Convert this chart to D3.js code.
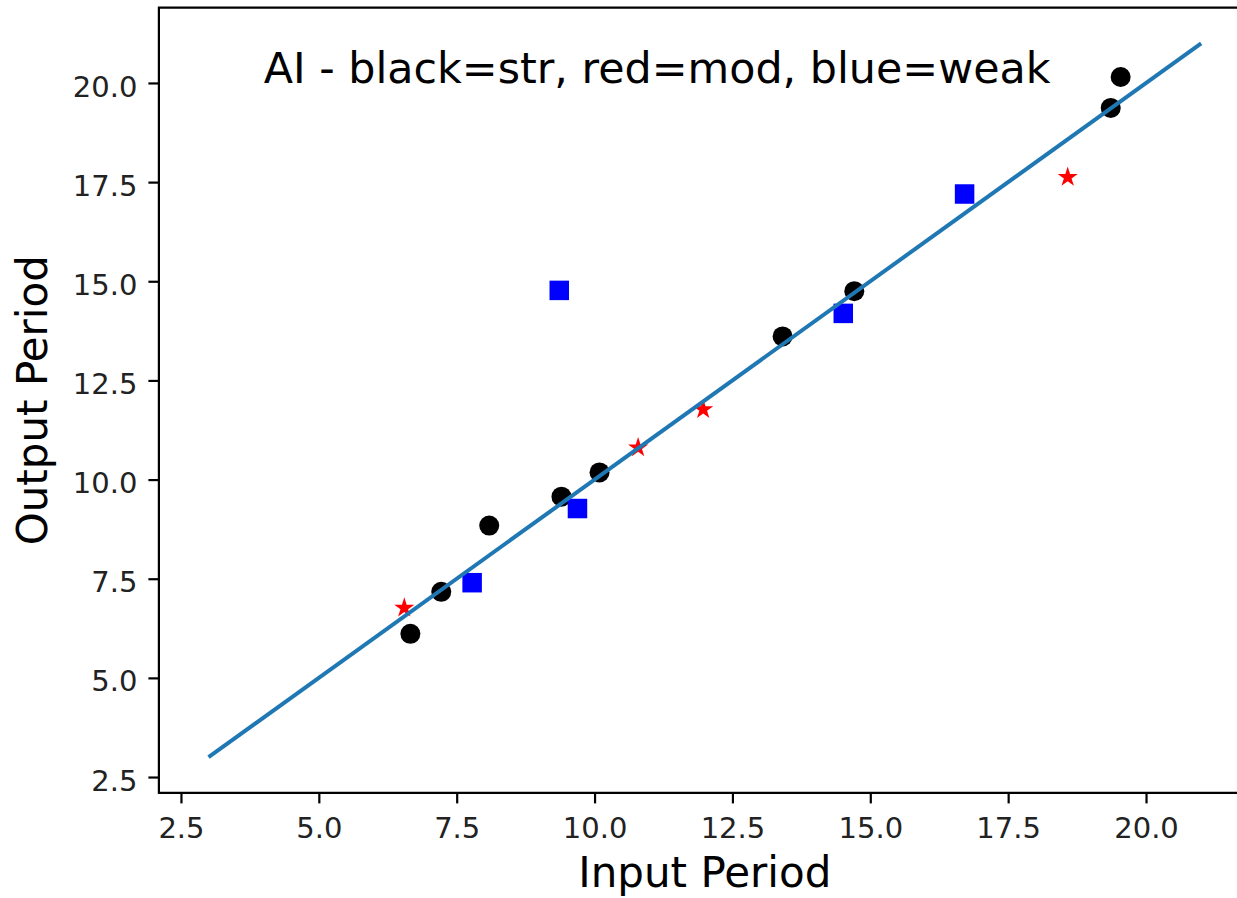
<!DOCTYPE html>
<html>
<head>
<meta charset="utf-8">
<script src="https://cdn.jsdelivr.net/npm/d3@7"></script>
<style>
  html, body { margin: 0; padding: 0; background: #fff; }
  svg { display: block; font-family: "DejaVu Sans", sans-serif; }
</style>
</head>
<body>
<svg id="chart" width="1237" height="898"></svg>
<script>
// ---- data ----
const strongX = [6.66, 7.22, 8.09, 9.40, 10.09, 13.41, 14.71, 19.36, 19.54];
const strongY = [6.11, 7.17, 8.84, 9.57, 10.18, 13.61, 14.75, 19.37, 20.15];
const modX = [6.55, 10.79, 11.97, 18.58];
const modY = [6.79, 10.83, 11.79, 17.65];
const weakX = [7.78, 9.36, 9.69, 14.51, 16.71];
const weakY = [7.40, 14.77, 9.27, 14.19, 17.20];
const fitX = [3, 21];
const fitY = [3, 21];
const tickValues = [2.5, 5.0, 7.5, 10.0, 12.5, 15.0, 17.5, 20.0];
const titleText = "AI - black=str, red=mod, blue=weak";
const xLabel = "Input Period";
const yLabel = "Output Period";

const svg = d3.select("#chart");
const x = d3.scaleLinear().domain([2.1, 21.9]).range([158.9, 1250.8]);
const y = d3.scaleLinear().domain([2.1, 21.9]).range([792.9, 7.6]);

const fmt = d3.format(".1f");

// axes
const xAxis = svg.append("g")
  .attr("transform", `translate(0,${y.range()[0]})`)
  .call(d3.axisBottom(x).tickValues(tickValues).tickFormat(fmt)
        .tickSizeOuter(0).tickSize(10.5).tickPadding(14));
const yAxis = svg.append("g")
  .attr("transform", `translate(${x.range()[0]},0)`)
  .call(d3.axisLeft(y).tickValues(tickValues).tickFormat(fmt)
        .tickSizeOuter(0).tickSize(10.5).tickPadding(11));

[xAxis, yAxis].forEach(g => {
  g.select(".domain").remove();
  g.selectAll(".tick line").attr("stroke", "#000").attr("stroke-width", 2.2);
  g.selectAll(".tick text").attr("fill", "#222").attr("font-size", 29)
    .attr("font-family", "DejaVu Sans");
});
yAxis.selectAll(".tick text").attr("dy", "0.45em");

// spines
const x0 = x.range()[0], x1 = x.range()[1], y0 = y.range()[0], y1 = y.range()[1];
svg.append("path")
  .attr("d", `M${x1},${y0}H${x0}V${y1}H${x1}`)
  .attr("fill", "none").attr("stroke", "#000").attr("stroke-width", 2.2);

// markers
const plot = svg.append("g");
plot.selectAll("circle.str").data(strongX.map((d, i) => [d, strongY[i]]))
  .join("circle").attr("class", "str")
  .attr("cx", d => x(d[0])).attr("cy", d => y(d[1])).attr("r", 10)
  .attr("fill", "#000");

const sq = 19.5;
plot.selectAll("rect.weak").data(weakX.map((d, i) => [d, weakY[i]]))
  .join("rect").attr("class", "weak")
  .attr("x", d => x(d[0]) - sq / 2).attr("y", d => y(d[1]) - sq / 2)
  .attr("width", sq).attr("height", sq)
  .attr("fill", "#0000ff");

const star = d3.symbol().type(d3.symbolStar).size(125);
plot.selectAll("path.mod").data(modX.map((d, i) => [d, modY[i]]))
  .join("path").attr("class", "mod")
  .attr("transform", d => `translate(${x(d[0])},${y(d[1]) + 1})`)
  .attr("d", star)
  .attr("fill", "#ff0000");

// fit line (drawn on top)
svg.append("path")
  .datum(fitX.map((d, i) => [d, fitY[i]]))
  .attr("d", d3.line().x(d => x(d[0])).y(d => y(d[1])))
  .attr("fill", "none").attr("stroke", "#1f77b4").attr("stroke-width", 4);

// title text inside axes at data (4, 20)
svg.append("text")
  .attr("x", x(4)).attr("y", y(20))
  .attr("font-size", 42.8).attr("fill", "#000")
  .text(titleText);

// axis labels
svg.append("text")
  .attr("x", (x0 + x1) / 2).attr("y", 887)
  .attr("text-anchor", "middle").attr("font-size", 42).attr("fill", "#000")
  .text(xLabel);
svg.append("text")
  .attr("transform", `translate(47,${(y0 + y1) / 2}) rotate(-90)`)
  .attr("text-anchor", "middle").attr("font-size", 42).attr("fill", "#000")
  .text(yLabel);
</script>
</body>
</html>
